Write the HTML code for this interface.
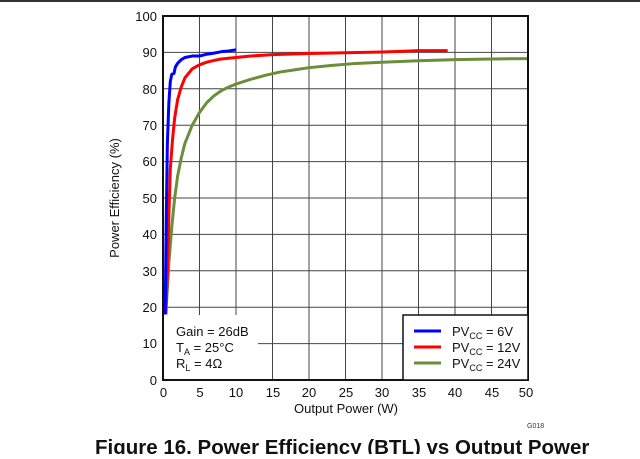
<!DOCTYPE html>
<html><head><style>
body{margin:0;background:#fff;width:640px;height:454px;overflow:hidden;font-family:"Liberation Sans",sans-serif;}
</style></head><body>
<svg width="640" height="454" xmlns="http://www.w3.org/2000/svg" font-family="Liberation Sans, sans-serif">
<rect x="0" y="0" width="640" height="2" fill="#333"/>
<g stroke="#444" stroke-width="1">
<line x1="163" y1="52.4" x2="528" y2="52.4"/><line x1="163" y1="88.8" x2="528" y2="88.8"/>
<line x1="163" y1="125.2" x2="528" y2="125.2"/><line x1="163" y1="161.6" x2="528" y2="161.6"/>
<line x1="163" y1="198" x2="528" y2="198"/><line x1="163" y1="234.4" x2="528" y2="234.4"/>
<line x1="163" y1="270.8" x2="528" y2="270.8"/><line x1="163" y1="307.2" x2="528" y2="307.2"/>
<line x1="163" y1="343.6" x2="528" y2="343.6"/>
<line x1="199.5" y1="16" x2="199.5" y2="380"/><line x1="236" y1="16" x2="236" y2="380"/>
<line x1="272.5" y1="16" x2="272.5" y2="380"/><line x1="309" y1="16" x2="309" y2="380"/>
<line x1="345.5" y1="16" x2="345.5" y2="380"/><line x1="382" y1="16" x2="382" y2="380"/>
<line x1="418.5" y1="16" x2="418.5" y2="380"/><line x1="455" y1="16" x2="455" y2="380"/>
<line x1="491.5" y1="16" x2="491.5" y2="380"/>
</g>
<rect x="164" y="315" width="94" height="64" fill="#fff"/>
<g transform="translate(163,380) scale(7.3,-3.64)" fill="none" stroke-width="3" stroke-linejoin="round">
<polyline vector-effect="non-scaling-stroke" stroke="#6b8e3a" points="0.3,18 0.5,22 0.8,32 1.2,42 1.6,50 2,56 2.5,61 3,65 4,70 5,73.5 6,76.2 7,78.1 8,79.5 9,80.5 10,81.3 12,82.6 14,83.7 16,84.6 18,85.2 20,85.8 23,86.4 26,86.9 30,87.3 35,87.7 40,88 45,88.2 50,88.3"/>
<polyline vector-effect="non-scaling-stroke" stroke="#ff0000" points="0.4,18 0.6,30 0.8,45 1,58 1.3,66 1.6,72 2,77 2.5,80.5 3,83 4,85.5 5,86.6 6,87.3 7,87.8 8,88.2 10,88.6 12,89 15,89.4 20,89.7 25,89.9 30,90.1 33,90.3 35,90.5 39,90.5"/>
<polyline vector-effect="non-scaling-stroke" stroke="#0000ff" points="0.3,18 0.45,45 0.6,65 0.8,76 1,82 1.2,84 1.5,84.2 1.7,86 2,87 2.5,88 3,88.6 4,89 5,89 6,89.5 7,89.8 8,90.2 9,90.4 10,90.7"/>
</g>
<rect x="163" y="16" width="365" height="364" fill="none" stroke="#111" stroke-width="2"/>
<rect x="403" y="315" width="125" height="65" fill="#fff" stroke="#111" stroke-width="1.5"/>
<g font-size="13" fill="#111" text-anchor="end">
<text x="157" y="21">100</text><text x="157" y="57">90</text><text x="157" y="94">80</text>
<text x="157" y="130">70</text><text x="157" y="166">60</text><text x="157" y="203">50</text>
<text x="157" y="239">40</text><text x="157" y="276">30</text><text x="157" y="312">20</text>
<text x="157" y="348">10</text><text x="157" y="385">0</text>
</g>
<g font-size="13" fill="#111" text-anchor="middle">
<text x="163.5" y="397">0</text><text x="200" y="397">5</text><text x="236" y="397">10</text>
<text x="273" y="397">15</text><text x="309" y="397">20</text><text x="346" y="397">25</text>
<text x="382" y="397">30</text><text x="419" y="397">35</text><text x="455" y="397">40</text>
<text x="492" y="397">45</text><text x="526" y="397">50</text>
<text x="346" y="413">Output Power (W)</text>
<text transform="translate(119,198) rotate(-90)">Power Efficiency (%)</text>
</g>
<g font-size="13" fill="#111">
<text x="176" y="336">Gain = 26dB</text>
<text x="176" y="352">T<tspan font-size="9" dy="3">A</tspan><tspan dy="-3"> = 25°C</tspan></text>
<text x="176" y="368">R<tspan font-size="9" dy="3">L</tspan><tspan dy="-3"> = 4Ω</tspan></text>
<text x="452" y="336">PV<tspan font-size="9" dy="3">CC</tspan><tspan dy="-3"> = 6V</tspan></text>
<text x="452" y="352">PV<tspan font-size="9" dy="3">CC</tspan><tspan dy="-3"> = 12V</tspan></text>
<text x="452" y="368">PV<tspan font-size="9" dy="3">CC</tspan><tspan dy="-3"> = 24V</tspan></text>
</g>
<line x1="414" y1="331" x2="441" y2="331" stroke="#0000ff" stroke-width="3"/>
<line x1="414" y1="347" x2="441" y2="347" stroke="#ff0000" stroke-width="3"/>
<line x1="414" y1="363" x2="441" y2="363" stroke="#6b8e3a" stroke-width="3"/>
<text x="527" y="428" font-size="7" fill="#333">G018</text>
<text x="95" y="454" font-size="20.5" font-weight="bold" fill="#111">Figure 16. Power Efficiency (BTL) vs Output Power</text>
</svg>
</body></html>
